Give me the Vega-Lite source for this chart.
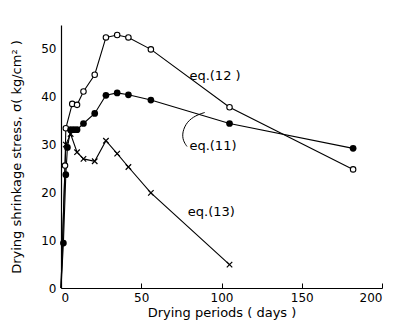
{
  "$schema": "https://vega.github.io/schema/vega-lite/v6.json",
  "width": 321,
  "height": 263,
  "autosize": {"type": "none"},
  "padding": {"left": 61, "top": 25, "right": 25, "bottom": 47},
  "background": "white",
  "config": {
    "view": {"stroke": null},
    "font": "DejaVu Sans",
    "axis": {"grid": false, "domainColor": "black", "tickColor": "black", "labelColor": "black", "titleColor": "black", "labelFont": "DejaVu Sans", "titleFont": "DejaVu Sans", "titleFontWeight": "normal"}
  },
  "datasets": {
    "pts": [
      {"s": "eq12", "day": 0, "stress": 0},
      {"s": "eq12", "day": 2.5, "stress": 25.6},
      {"s": "eq12", "day": 3, "stress": 33.4},
      {"s": "eq12", "day": 7, "stress": 38.5},
      {"s": "eq12", "day": 10, "stress": 38.3},
      {"s": "eq12", "day": 14, "stress": 41.1},
      {"s": "eq12", "day": 21, "stress": 44.6},
      {"s": "eq12", "day": 28, "stress": 52.4},
      {"s": "eq12", "day": 35, "stress": 52.9},
      {"s": "eq12", "day": 42, "stress": 52.4},
      {"s": "eq12", "day": 56, "stress": 49.9},
      {"s": "eq12", "day": 105, "stress": 37.8},
      {"s": "eq12", "day": 182, "stress": 24.8},
      {"s": "eq11", "day": 0, "stress": 0},
      {"s": "eq11", "day": 1.5, "stress": 9.4},
      {"s": "eq11", "day": 3, "stress": 23.7},
      {"s": "eq11", "day": 4, "stress": 29.4},
      {"s": "eq11", "day": 6, "stress": 33.1},
      {"s": "eq11", "day": 8, "stress": 33.1},
      {"s": "eq11", "day": 10, "stress": 33.1},
      {"s": "eq11", "day": 14, "stress": 34.4},
      {"s": "eq11", "day": 21, "stress": 36.5},
      {"s": "eq11", "day": 28, "stress": 40.3},
      {"s": "eq11", "day": 35, "stress": 40.8},
      {"s": "eq11", "day": 42, "stress": 40.4},
      {"s": "eq11", "day": 56, "stress": 39.3},
      {"s": "eq11", "day": 105, "stress": 34.4},
      {"s": "eq11", "day": 182, "stress": 29.2},
      {"s": "eq13", "day": 0, "stress": 0},
      {"s": "eq13", "day": 3, "stress": 30},
      {"s": "eq13", "day": 6, "stress": 32.2},
      {"s": "eq13", "day": 10, "stress": 28.4},
      {"s": "eq13", "day": 14, "stress": 27},
      {"s": "eq13", "day": 21, "stress": 26.5},
      {"s": "eq13", "day": 28, "stress": 30.8},
      {"s": "eq13", "day": 35, "stress": 28.1},
      {"s": "eq13", "day": 42, "stress": 25.3},
      {"s": "eq13", "day": 56, "stress": 19.9},
      {"s": "eq13", "day": 105, "stress": 4.9}
    ],
    "labels": [
      {"t": "eq.(12 )", "day": 80, "stress": 44.4},
      {"t": "eq.(11)", "day": 80, "stress": 29.6},
      {"t": "eq.(13)", "day": 79, "stress": 15.8}
    ],
    "arrow": [
      {"o": 1, "day": 78.5, "stress": 29.6},
      {"o": 2, "day": 76.0, "stress": 30.8},
      {"o": 3, "day": 75.5, "stress": 32.6},
      {"o": 4, "day": 78.5, "stress": 34.8},
      {"o": 5, "day": 84, "stress": 36.1},
      {"o": 6, "day": 89.5, "stress": 36.7}
    ]
  },
  "layer": [
    {
      "data": {"name": "pts"},
      "mark": {"type": "line", "color": "black", "strokeWidth": 1.1},
      "encoding": {
        "x": {"field": "day", "type": "quantitative", "scale": {"domain": [0, 200], "nice": false},
          "axis": {"values": [0, 50, 100, 150, 200], "title": "Drying periods ( days )", "titleFontSize": 13, "labelFontSize": 12, "tickSize": -5, "labelPadding": 9, "titlePadding": 3, "domainWidth": 1.2}},
        "y": {"field": "stress", "type": "quantitative", "scale": {"domain": [0, 55], "nice": false},
          "axis": {"values": [0, 10, 20, 30, 40, 50], "title": "Drying shrinkage stress, σ( kg/cm² )", "titleFontSize": 13, "labelFontSize": 12, "tickSize": 0, "labelPadding": 5, "titlePadding": 17, "domainWidth": 1.2}},
        "detail": {"field": "s"},
        "order": {"field": "day", "type": "quantitative"}
      }
    },
    {
      "data": {"name": "pts"},
      "transform": [{"filter": "datum.s === 'eq12' && datum.day > 0"}],
      "mark": {"type": "point", "shape": "circle", "filled": true, "fill": "white", "stroke": "black", "strokeWidth": 1.1, "size": 30, "opacity": 1},
      "encoding": {
        "x": {"field": "day", "type": "quantitative"},
        "y": {"field": "stress", "type": "quantitative"}
      }
    },
    {
      "data": {"name": "pts"},
      "transform": [{"filter": "datum.s === 'eq11' && datum.day > 0"}],
      "mark": {"type": "point", "shape": "circle", "filled": true, "color": "black", "size": 45, "opacity": 1},
      "encoding": {
        "x": {"field": "day", "type": "quantitative"},
        "y": {"field": "stress", "type": "quantitative"}
      }
    },
    {
      "data": {"name": "pts"},
      "transform": [{"filter": "datum.s === 'eq13' && datum.day > 0"}],
      "mark": {"type": "point", "shape": "M-1,-1L1,1M-1,1L1,-1", "filled": false, "stroke": "black", "strokeWidth": 1.2, "size": 30, "opacity": 1},
      "encoding": {
        "x": {"field": "day", "type": "quantitative"},
        "y": {"field": "stress", "type": "quantitative"}
      }
    },
    {
      "data": {"name": "arrow"},
      "mark": {"type": "line", "color": "black", "strokeWidth": 1, "interpolate": "basis"},
      "encoding": {
        "x": {"field": "day", "type": "quantitative"},
        "y": {"field": "stress", "type": "quantitative"},
        "order": {"field": "o", "type": "quantitative"}
      }
    },
    {
      "data": {"name": "labels"},
      "mark": {"type": "text", "align": "left", "baseline": "middle", "fontSize": 13, "font": "DejaVu Sans", "color": "black"},
      "encoding": {
        "x": {"field": "day", "type": "quantitative"},
        "y": {"field": "stress", "type": "quantitative"},
        "text": {"field": "t"}
      }
    }
  ]
}
